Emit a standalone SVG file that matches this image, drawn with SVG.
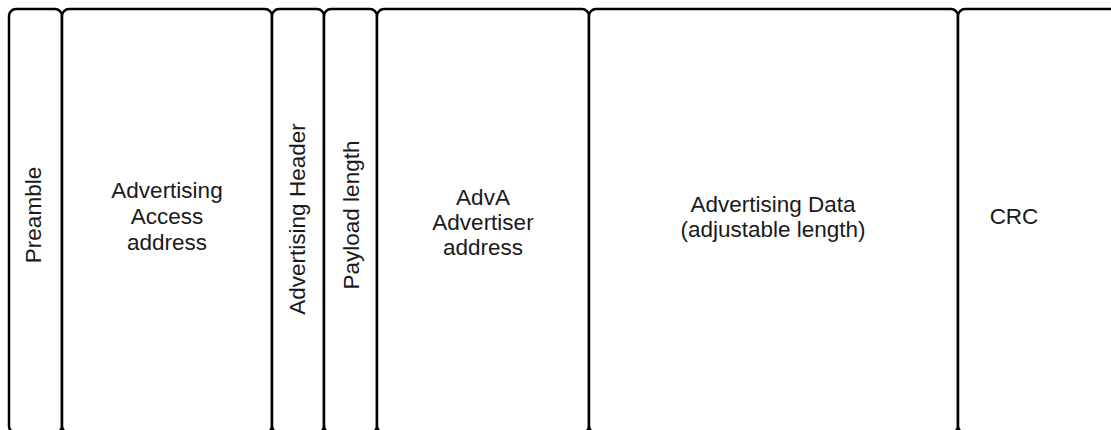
<svg xmlns="http://www.w3.org/2000/svg" width="1111" height="430" viewBox="0 0 1111 430">
<style>
.box{fill:#fff;stroke:#000;stroke-width:2.5}
.t{font-family:"Liberation Sans",Arial,sans-serif;font-size:22.5px;fill:#1a1a1a;text-anchor:middle;dominant-baseline:central}
</style>
<rect width="1111" height="430" fill="#fff"/>
<g id="preamble"><rect class="box" x="9" y="9" width="53" height="424" rx="7"/><text class="t" transform="translate(33,215) rotate(-90)">Preamble</text></g>
<g id="access"><rect class="box" x="62" y="9" width="210" height="424" rx="7"/><text class="t" x="167" y="190">Advertising</text><text class="t" x="167" y="216">Access</text><text class="t" x="167" y="242">address</text></g>
<g id="header"><rect class="box" x="272" y="9" width="52" height="424" rx="7"/><text class="t" transform="translate(297,219) rotate(-90)">Advertising Header</text></g>
<g id="payload"><rect class="box" x="324" y="9" width="53" height="424" rx="7"/><text class="t" transform="translate(351,215) rotate(-90)">Payload length</text></g>
<g id="adva"><rect class="box" x="377" y="9" width="212" height="424" rx="7"/><text class="t" x="483" y="197">AdvA</text><text class="t" x="483" y="222">Advertiser</text><text class="t" x="483" y="247">address</text></g>
<g id="data"><rect class="box" x="589" y="9" width="369" height="424" rx="7"/><text class="t" x="773" y="204">Advertising Data</text><text class="t" x="773" y="229">(adjustable length)</text></g>
<g id="crc"><rect class="box" x="958" y="9" width="170" height="424" rx="7"/><text class="t" x="1014" y="216">CRC</text></g>
<g id="connectors"/>
</svg>
